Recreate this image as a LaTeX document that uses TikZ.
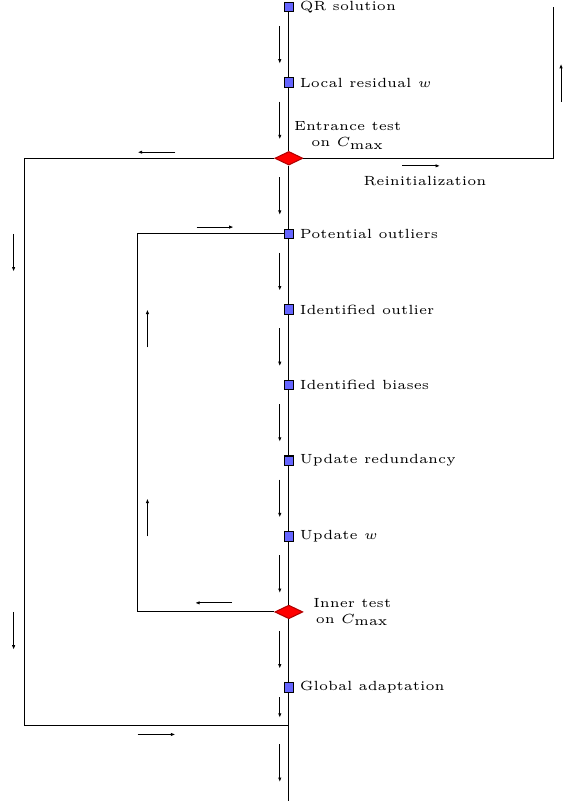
\documentclass[tikz,border=0pt]{standalone}
\usetikzlibrary{shapes.geometric,arrows.meta}
\begin{document}
\begin{tikzpicture}[font=\tiny,>={Latex[length=0.6mm,width=0.45mm]},
	sq/.style={draw,fill=blue!60,minimum size=0.125cm,inner sep=0pt},
	dia/.style={diamond,draw=red!70!black,fill=red,aspect=2,minimum width=0.37cm,minimum height=0.18cm,inner sep=0pt},
	lab/.style={anchor=west,inner sep=2pt}]
	\useasboundingbox (-3.82,-10.54) rectangle (3.84,0.093);
	% steps on the main line
	\foreach \n/\y/\t in {qr/0/QR solution,res/-1/Local residual $w$,pot/-3/Potential outliers,
		out/-4/Identified outlier,bias/-5/Identified biases,red/-6/Update redundancy,
		upw/-7/Update $w$,glob/-9/Global adaptation}
	{\node[sq] (\n) at (0,\y) {};
	\node[lab] (\n-t) at (\n.east) {\t};}
	\node[dia] (ent) at (0,-2) {};
	\node[dia] (inn) at (0,-8) {};
	\node[align=center] (ent-t) at (0.78,-1.7) {Entrance test\\on $C_{\max}$};
	\node[align=center,anchor=west] (inn-t) at (0.2,-8) {Inner test\\on $C_{\max}$};
	\node (reinit) at (1.8,-2.3) {Reinitialization};
	\coordinate (jb) at (0,-9.5);
	\coordinate (end) at (0,-10.5);
	\coordinate (ol) at (-3.5,-2);
	\coordinate (il) at (-2,-3);
	\coordinate (or) at (3.5,-2);
	\coordinate (rt) at (3.5,0);
	\draw (qr) -- (res) -- (ent) -- (pot) -- (out) -- (bias) -- (red) -- (upw) -- (inn) -- (glob) -- (jb) -- (end);
	\draw (ent) -- (ol) |- (jb);
	\draw (pot) -- (il) |- (inn);
	\draw (ent) -- (or) -- (rt);
	% flow arrows
	\foreach \y in {0,1,...,8} \draw[->] (-0.12,-\y-0.25) -- (-0.12,-\y-0.75);
	\draw[->] (-0.12,-9.13) -- (-0.12,-9.4);
	\draw[->] (-0.12,-9.75) -- (-0.12,-10.25);
	\draw[->] (3.6,-1.25) -- (3.6,-0.75);
	\draw[->] (1.5,-2.1) -- (2,-2.1);
	\draw[->] (-1.5,-1.92) -- (-2,-1.92);
	\foreach \y in {-3,-8} \draw[->] (-3.64,\y) -- (-3.64,\y-0.5);
	\draw[->] (-2,-9.62) -- (-1.5,-9.62);
	\draw[->] (-1.22,-2.91) -- (-0.73,-2.91);
	\foreach \y in {-4.5,-7} \draw[->] (-1.87,\y) -- (-1.87,\y+0.5);
	\draw[->] (-0.75,-7.88) -- (-1.24,-7.88);
\end{tikzpicture}
\end{document}
